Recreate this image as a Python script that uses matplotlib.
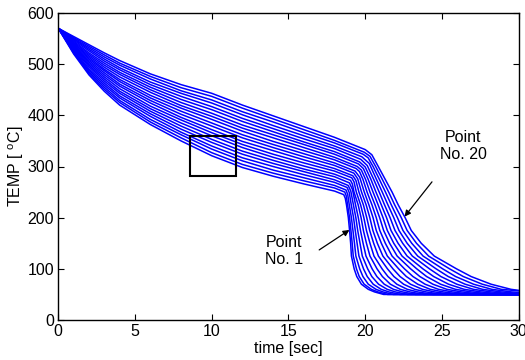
import numpy as np
import matplotlib
matplotlib.use('Agg')
import matplotlib.pyplot as plt
from matplotlib.patches import Rectangle

plt.rcParams['font.family'] = ['Liberation Sans', 'DejaVu Sans']

# times [sec] where the slow cooling part was read
plateau_t = [0, 1, 2, 3, 4, 6, 8, 10, 12, 14, 16, 18]
# temperature of points No. 1 .. No. 20 at plateau_t
plateau_temp = [
    [570, 520, 479, 447, 420, 382, 350, 321, 298, 281, 266, 252],
    [570, 522, 482, 451, 425, 387, 356, 327, 304, 287, 272, 258],
    [570, 524, 485, 455, 429, 392, 362, 334, 311, 293, 278, 263],
    [570, 525, 488, 459, 434, 398, 367, 340, 317, 300, 284, 269],
    [570, 527, 491, 463, 438, 403, 373, 347, 324, 306, 290, 274],
    [570, 529, 495, 467, 443, 408, 379, 353, 330, 312, 295, 280],
    [570, 531, 498, 471, 447, 413, 385, 360, 337, 318, 301, 285],
    [570, 533, 501, 475, 452, 418, 391, 366, 343, 324, 307, 291],
    [570, 534, 504, 479, 457, 424, 396, 372, 349, 331, 313, 296],
    [570, 536, 507, 483, 461, 429, 402, 379, 356, 337, 319, 302],
    [570, 538, 510, 487, 466, 434, 408, 385, 362, 343, 325, 307],
    [570, 540, 513, 490, 470, 439, 414, 392, 369, 349, 331, 313],
    [570, 541, 516, 494, 475, 445, 419, 398, 375, 356, 337, 318],
    [570, 543, 519, 498, 480, 450, 425, 404, 381, 362, 343, 324],
    [570, 545, 522, 502, 484, 455, 431, 411, 388, 368, 348, 329],
    [570, 547, 526, 506, 489, 460, 437, 417, 394, 374, 354, 335],
    [570, 549, 529, 510, 493, 465, 443, 424, 401, 380, 360, 340],
    [570, 550, 532, 514, 498, 471, 448, 430, 407, 387, 366, 346],
    [570, 552, 535, 518, 502, 476, 454, 437, 414, 393, 372, 351],
    [570, 554, 538, 522, 507, 481, 460, 443, 420, 399, 378, 357],
]

# start of the fast drop and the rounded shoulder after it
knee_t = [18.60, 18.67, 18.75, 18.82, 18.89, 18.97, 19.04, 19.12, 19.19, 19.26,
          19.34, 19.41, 19.48, 19.56, 19.63, 19.71, 19.78, 19.86, 19.93, 20.00]
knee_temp = [245, 250, 254, 259, 263, 268, 273, 278, 282, 287,
             291, 296, 300, 305, 309, 314, 319, 324, 328, 333]
shoulder_t = [18.70, 18.77, 18.86, 18.96, 19.06, 19.17, 19.16, 19.27, 19.39, 19.51,
              19.64, 19.63, 19.75, 19.88, 20.00, 20.13, 20.26, 20.19, 20.31, 20.43]
shoulder_temp = [238, 242, 245, 249, 252, 255, 266, 270, 273, 276,
                 279, 290, 293, 296, 299, 302, 306, 317, 320, 323]

# time at which each curve passes these temperatures (nan = not on curve)
drop_levels = [300, 275, 250, 225, 200, 175, 150, 125, 100, 85, 70, 60, 55, 50]
nan = np.nan
drop_t = [
    [nan, nan, nan, 18.78, 18.90, 18.98, 19.05, 19.10, 19.28, 19.45, 19.75, 20.20, 20.60, 21.20],
    [nan, nan, nan, 18.85, 18.98, 19.07, 19.15, 19.22, 19.43, 19.61, 19.93, 20.40, 20.82, 21.46],
    [nan, nan, nan, 18.96, 19.10, 19.20, 19.30, 19.39, 19.64, 19.85, 20.20, 20.70, 21.15, 21.83],
    [nan, nan, nan, 19.09, 19.24, 19.35, 19.47, 19.59, 19.89, 20.13, 20.52, 21.04, 21.53, 22.27],
    [nan, nan, nan, 19.23, 19.39, 19.51, 19.66, 19.81, 20.16, 20.43, 20.87, 21.43, 21.96, 22.76],
    [nan, nan, nan, 19.37, 19.55, 19.69, 19.86, 20.05, 20.45, 20.76, 21.24, 21.84, 22.42, 23.28],
    [nan, nan, 19.27, 19.54, 19.73, 19.88, 20.08, 20.31, 20.77, 21.12, 21.64, 22.28, 22.90, 23.84],
    [nan, nan, 19.42, 19.70, 19.91, 20.08, 20.31, 20.57, 21.10, 21.48, 22.06, 22.74, 23.41, 24.42],
    [nan, nan, 19.59, 19.88, 20.10, 20.29, 20.55, 20.86, 21.45, 21.87, 22.50, 23.22, 23.95, 25.04],
    [nan, nan, 19.76, 20.06, 20.30, 20.50, 20.79, 21.15, 21.81, 22.27, 22.95, 23.73, 24.51, 25.67],
    [nan, nan, 19.94, 20.24, 20.51, 20.72, 21.05, 21.44, 22.18, 22.68, 23.42, 24.24, 25.07, 26.32],
    [nan, 19.85, 20.12, 20.44, 20.72, 20.95, 21.31, 21.75, 22.56, 23.11, 23.90, 24.77, 25.66, 26.99],
    [nan, 20.02, 20.31, 20.64, 20.94, 21.20, 21.59, 22.08, 22.96, 23.56, 24.41, 25.32, 26.27, 27.70],
    [nan, 20.19, 20.51, 20.84, 21.16, 21.44, 21.86, 22.40, 23.36, 24.00, 24.91, 25.88, 26.89, 28.41],
    [nan, 20.37, 20.70, 21.05, 21.39, 21.68, 22.14, 22.73, 23.76, 24.46, 25.43, 26.45, 27.52, 29.13],
    [nan, 20.55, 20.91, 21.26, 21.62, 21.94, 22.44, 23.07, 24.19, 24.93, 25.97, 27.05, 28.19, 29.89],
    [nan, 20.73, 21.11, 21.48, 21.86, 22.20, 22.73, 23.42, 24.62, 25.41, 26.51, 27.64, 28.84, nan],
    [20.51, 20.92, 21.32, 21.70, 22.10, 22.46, 23.03, 23.77, 25.05, 25.89, 27.06, 28.25, 29.51, nan],
    [20.68, 21.11, 21.53, 21.92, 22.35, 22.73, 23.34, 24.13, 25.50, 26.39, 27.63, 28.87, nan, nan],
    [20.85, 21.30, 21.75, 22.15, 22.60, 23.00, 23.65, 24.50, 25.95, 26.90, 28.20, 29.50, nan, nan],
]
# temperature at t = 30 s
end_temp = [50, 50, 50, 50, 50, 50, 50, 50, 50, 50,
            50, 50, 50, 50, 50, 50, 52, 54, 57, 58]

fig = plt.figure(figsize=(5.25, 3.6), dpi=100)
ax = fig.add_axes([0.111, 0.111, 0.877, 0.853])

for k in range(len(plateau_temp)):
    tt = list(plateau_t) + [knee_t[k], shoulder_t[k]]
    yy = list(plateau_temp[k]) + [knee_temp[k], shoulder_temp[k]]
    for lev, tc in zip(drop_levels, drop_t[k]):
        if not np.isnan(tc):
            tt.append(tc)
            yy.append(lev)
    tt.append(30)
    yy.append(end_temp[k])
    ax.plot(tt, yy, color='#0000ff', lw=1.1)

# zoom window
ax.add_patch(Rectangle((8.6, 282), 3.0, 78, fill=False, ec='k', lw=1.5, zorder=5))

arr = dict(arrowstyle='-|>', color='k', lw=0.9, mutation_scale=9, shrinkA=0, shrinkB=0)
ax.annotate('', xy=(22.56, 202), xytext=(24.35, 270), arrowprops=arr)
ax.text(26.4, 340, 'Point\nNo. 20', ha='center', va='center', fontsize=11.5, linespacing=1.1)
ax.annotate('', xy=(18.97, 176), xytext=(17.0, 137), arrowprops=arr)
ax.text(14.7, 135, 'Point\nNo. 1', ha='center', va='center', fontsize=11.5, linespacing=1.1)

ax.set_xlim(0, 30)
ax.set_ylim(0, 600)
ax.set_xticks(np.arange(0, 31, 5))
ax.set_yticks(np.arange(0, 601, 100))
ax.tick_params(direction='in', top=True, right=True, length=4, labelsize=11.5, pad=3)
for s in ax.spines.values():
    s.set_linewidth(1.0)
ax.set_xlabel('time [sec]', fontsize=11.5, labelpad=1)
ax.set_ylabel('TEMP [ $^{\\mathregular{o}}$C]', fontsize=11.5, labelpad=1)

fig.savefig('out.png', dpi=100)
